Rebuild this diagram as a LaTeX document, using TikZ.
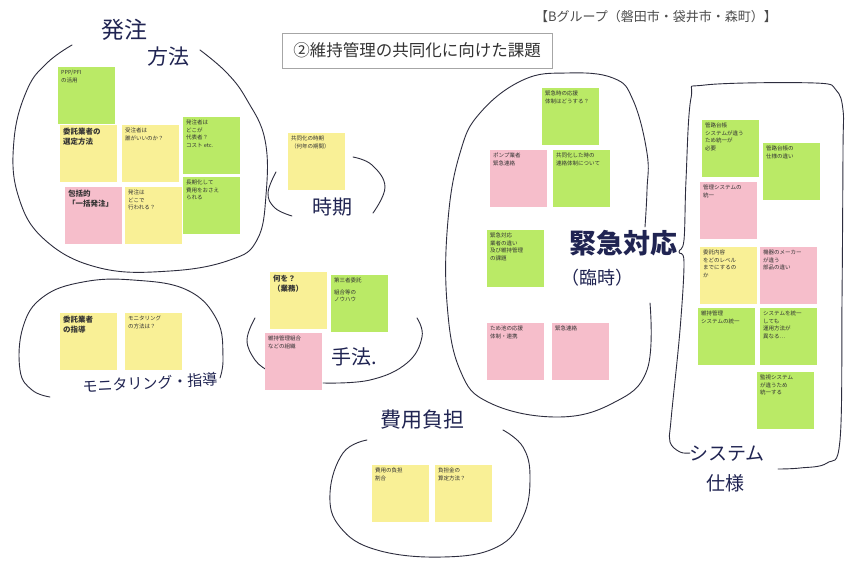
\documentclass[tikz,border=0pt]{standalone}
\usepackage{fontspec}
\setmainfont{Noto Sans CJK JP}
\definecolor{pg}{RGB}{186,234,102}
\definecolor{py}{RGB}{249,240,150}
\definecolor{pp}{RGB}{246,190,203}
\definecolor{ink}{RGB}{32,36,82}
\definecolor{pen}{RGB}{45,45,62}
\newcommand{\notetext}[1]{\parbox[t][51pt][t]{51pt}{\raggedright #1}}
\tikzset{
  note/.style={rectangle, inner sep=3pt, anchor=north west, text=black!80,
    font=\fontsize{5.5}{7.5}\selectfont, align=left},
  gnote/.style={note, fill=pg},
  ynote/.style={note, fill=py},
  pnote/.style={note, fill=pp},
  bignote/.style={font=\fontsize{7.5}{10}\selectfont\bfseries},
  outline/.style={draw=pen, line width=0.9pt, line cap=round},
  hand/.style={text=ink, inner sep=0pt},
}
\begin{document}
\begin{tikzpicture}[x=1pt,y=1pt]
\path[use as bounding box, fill=white] (0,0) rectangle (846,-562);

% header and title
\node[text=black!70, font=\fontsize{13}{15}\selectfont] (hdr) at (656,-17) {【Bグループ（磐田市・袋井市・森町）】};
\node[draw=black!35, fill=white, minimum width=270pt, minimum height=35pt, text=black!80,
  font=\fontsize{16.5}{19}\selectfont] (title) at (417,-50.5) {②維持管理の共同化に向けた課題};

% ---------- 発注方法 ----------
\draw[outline] plot[smooth, tension=0.7] coordinates {(72,-45) (47,-63) (27,-90) (14,-140) (18,-195) (45,-240) (100,-268) (170,-271) (230,-260) (257,-240) (266,-195) (265,-140) (247,-100) (227,-73) (200,-50)};
\node[hand, font=\fontsize{23}{25}\selectfont] (l1a) at (124,-30) {発注};
\node[hand, font=\fontsize{21}{23}\selectfont] (l1b) at (168,-57) {方法};
\node[gnote] (a1) at (58,-67) {\notetext{PPP/PFI\\の活用}};
\node[ynote, bignote] (a2) at (60,-125) {\notetext{委託業者の\\選定方法}};
\node[ynote] (a3) at (122,-125) {\notetext{受注者は\\誰がいいのか？}};
\node[gnote] (a4) at (183,-117) {\notetext{発注者は\\どこが\\代表者？\\コスト etc.}};
\node[gnote] (a5) at (183,-177) {\notetext{長期化して\\費用をおさえ\\られる}};
\node[pnote, bignote] (a6) at (65,-187) {\notetext{包括的\\「一括発注」}};
\node[ynote] (a7) at (125,-187) {\notetext{発注は\\どこで\\行われる？}};

% ---------- 時期 ----------
\draw[outline] plot[smooth, tension=0.7] coordinates {(276,-172) (268,-193) (275,-208) (292,-216)};
\draw[outline] plot[smooth, tension=0.7] coordinates {(353,-157) (372,-165) (385,-187) (373,-213)};
\node[ynote] (b1) at (288,-133) {\notetext{共同化の時期\\（何年の期間）}};
\node[hand, font=\fontsize{20}{22}\selectfont] (l2) at (332,-207) {時期};

% ---------- モニタリング・指導 ----------
\draw[outline] plot[smooth, tension=0.7] coordinates {(50,-397) (32,-390) (20,-370) (23,-327) (43,-297) (83,-282) (133,-280) (187,-290) (217,-320) (223,-357) (220,-378)};
\node[ynote, bignote] (c1) at (60,-313) {\notetext{委託業者\\の指導}};
\node[ynote] (c2) at (125,-313) {\notetext{モニタリング\\の方法は？}};
\node[hand, rotate=3, font=\fontsize{15}{17}\selectfont] (l3) at (150,-383) {モニタリング・指導};

% ---------- 手法 ----------
\draw[outline] plot[smooth, tension=0.7] coordinates {(255,-318) (247,-340) (255,-360) (267,-370)};
\draw[outline] plot[smooth, tension=0.7] coordinates {(323,-383) (370,-380) (407,-363) (422,-337) (417,-318)};
\node[ynote, bignote] (d1) at (270,-272) {\notetext{何を？\\（業務）}};
\node[gnote] (d2) at (331,-275) {\notetext{第三者委託\\[4pt]組合等の\\ノウハウ}};
\node[pnote] (d3) at (265,-333) {\notetext{維持管理組合\\などの組織}};
\node[hand, font=\fontsize{20}{22}\selectfont] (l4) at (354,-357) {手法.};

% ---------- 費用負担 ----------
\draw[outline] plot[smooth, tension=0.7] coordinates {(367,-440) (343,-453) (330,-493) (340,-527) (377,-550) (443,-557) (497,-547) (523,-517) (530,-477) (523,-447) (503,-430)};
\node[hand, font=\fontsize{21}{23}\selectfont] (l5) at (422,-420) {費用負担};
\node[ynote] (e1) at (372,-465) {\notetext{費用の負担\\割合}};
\node[ynote] (e2) at (435,-465) {\notetext{負担金の\\算定方法？}};

% ---------- 緊急対応 ----------
\draw[outline] plot[smooth, tension=0.7] coordinates {(645,-227) (647,-190) (647,-153) (633,-100) (613,-78) (567,-73) (523,-80) (480,-113) (460,-153) (448,-220) (447,-303) (460,-370) (490,-403) (557,-417) (613,-403) (647,-370) (650,-303)};
\node[gnote] (f1) at (542,-88) {\notetext{緊急時の応援\\体制はどうする？}};
\node[pnote] (f2) at (490,-150) {\notetext{ポンプ業者\\緊急連絡}};
\node[gnote] (f3) at (553,-150) {\notetext{共同化した時の\\連絡体制について}};
\node[gnote] (f4) at (487,-230) {\notetext{緊急対応\\業者の違い\\及び維持管理\\の課題}};
\node[pnote] (f5) at (487,-323) {\notetext{ため池の応援\\体制・連携}};
\node[pnote] (f6) at (552,-323) {\notetext{緊急連絡}};
\node[hand, font=\fontsize{27}{29}\selectfont\bfseries] (l6a) at (623,-243) {緊急対応};
\node[hand, font=\fontsize{18}{20}\selectfont] (l6b) at (597,-278) {（臨時）};

% ---------- システム仕様 ----------
\draw[outline] plot[smooth, tension=0.6] coordinates {(778,-469) (800,-468) (827,-463) (840,-440) (842,-300) (843,-150) (843,-110) (836,-90) (815,-83) (705,-85) (691,-98) (686,-180) (684,-240) (679,-252) (684,-262) (680,-330) (671,-420) (670,-442) (680,-452) (690,-453)};
\node[gnote] (g1) at (702,-120) {\notetext{管路台帳\\システムが違う\\ため統一が\\必要}};
\node[gnote] (g2) at (763,-143) {\notetext{管路台帳の\\仕様の違い}};
\node[pnote] (g3) at (700,-182) {\notetext{管理システムの\\統一}};
\node[ynote] (g4) at (700,-247) {\notetext{委託内容\\をどのレベル\\までにするの\\か}};
\node[pnote] (g5) at (760,-247) {\notetext{機器のメーカー\\が違う\\部品の違い}};
\node[gnote] (g6) at (698,-308) {\notetext{維持管理\\システムの統一}};
\node[gnote] (g7) at (760,-308) {\notetext{システムを統一\\しても\\運用方法が\\異なる…}};
\node[gnote] (g8) at (757,-372) {\notetext{監視システム\\が違うため\\統一する}};
\node[hand, font=\fontsize{19}{21}\selectfont] (l7a) at (727,-454) {システム};
\node[hand, font=\fontsize{19}{21}\selectfont] (l7b) at (725,-483) {仕様};
\end{tikzpicture}
\end{document}
